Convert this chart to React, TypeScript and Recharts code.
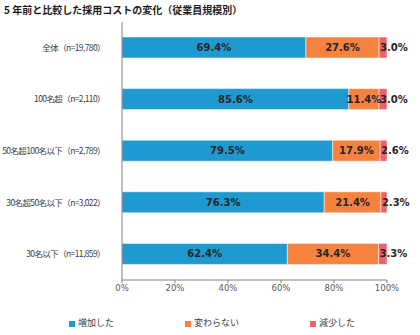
import React from 'react';
import { BarChart, Bar, XAxis, YAxis, LabelList } from 'recharts';

const categories = [
  '全体（n=19,780）',
  '100名超（n=2,110）',
  '50名超100名以下（n=2,789）',
  '30名超50名以下（n=3,022）',
  '30名以下（n=11,859）',
];
const increased = [69.4, 85.6, 79.5, 76.3, 62.4];
const unchanged = [27.6, 11.4, 17.9, 21.4, 34.4];
const decreased = [3.0, 3.0, 2.6, 2.3, 3.3];
const xTicks = [0, 20, 40, 60, 80, 100];

const SERIES = [
  { key: 'increased', name: '増加した', color: '#1F9AD1' },
  { key: 'unchanged', name: '変わらない', color: '#F5823F' },
  { key: 'decreased', name: '減少した', color: '#F0606B' },
];

const data = categories.map((name, i) => ({
  name,
  increased: increased[i],
  unchanged: unchanged[i],
  decreased: decreased[i],
}));

const NUM_FONT = '"DejaVu Sans", "Noto Sans CJK JP", sans-serif';
const JP_FONT = '"Noto Sans CJK JP", sans-serif';
const fmt = (v: number) => `${v.toFixed(1)}%`;

export default function App() {
  return (
    <div style={{ position: 'absolute', left: 0, top: 0, width: 420, height: 335, background: '#fff' }}>
      <div
        style={{
          position: 'absolute', left: 4, top: 2, fontFamily: JP_FONT,
          fontWeight: 700, fontSize: 10, color: '#1a1a1a', whiteSpace: 'nowrap',
        }}
      >
        5 年前と比較した採用コストの変化（従業員規模別）
      </div>
      <BarChart
        width={420}
        height={305}
        data={data}
        layout="vertical"
        barSize={21}
        margin={{ top: 22, right: 33, bottom: 5, left: 0 }}
      >
        <XAxis
          type="number"
          domain={[0, 100]}
          allowDataOverflow
          ticks={xTicks}
          tickFormatter={(v) => `${v}%`}
          stroke="#808080"
          tickSize={3}
          tick={{ fontSize: 8.5, fill: '#595959', fontFamily: NUM_FONT }}
          height={20}
        />
        <YAxis
          type="category"
          dataKey="name"
          width={122}
          stroke="#808080"
          tickLine={false}
          tickMargin={11}
          tick={{ fontSize: 8.5, fill: '#404040', fontFamily: JP_FONT, letterSpacing: -0.6 }}
        />
        {SERIES.map((s) => (
          <Bar
            key={s.key}
            dataKey={s.key}
            name={s.name}
            stackId="a"
            fill={s.color}
            stroke="rgba(255,255,255,0.5)"
            strokeWidth={1}
            isAnimationActive={false}
          >
            <LabelList
              dataKey={s.key}
              position={s.key === 'decreased' ? 'insideLeft' : 'center'}
              offset={s.key === 'decreased' ? 1 : 5}
              formatter={fmt}
              style={{ fontSize: 10, fontWeight: 700, fill: '#262626', fontFamily: NUM_FONT }}
            />
          </Bar>
        ))}
      </BarChart>
      {SERIES.map((s, i) => (
        <div
          key={s.key}
          style={{
            position: 'absolute', left: [69, 185, 310][i], top: 316,
            display: 'flex', alignItems: 'center', fontFamily: JP_FONT,
            fontSize: 9, color: '#404040', whiteSpace: 'nowrap',
          }}
        >
          <span style={{ width: 6, height: 6, background: s.color, marginRight: 3, marginTop: 2 }} />
          {s.name}
        </div>
      ))}
    </div>
  );
}
